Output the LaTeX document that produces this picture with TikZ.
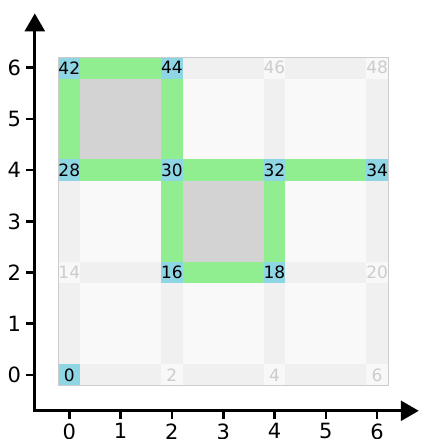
\documentclass[tikz,border=0pt]{standalone}
\usepackage{fontspec}
\setmainfont{DejaVu Sans}
\usetikzlibrary{arrows.meta}
\definecolor{vact}{HTML}{8ED6E4}
\definecolor{eact}{HTML}{90EE90}
\definecolor{fact}{HTML}{D3D3D3}
\definecolor{eoff}{HTML}{F0F0F0}
\definecolor{foff}{HTML}{F9F9F9}
\definecolor{voffc}{HTML}{F8F8F8}
\definecolor{txtoff}{HTML}{CCCCCC}
\definecolor{framec}{HTML}{CCCCCC}
\begin{document}
\begin{tikzpicture}[
  vtx/.style={rectangle, minimum size=21.6pt, inner sep=0pt, outer sep=0pt, font=\fontsize{17}{17}\selectfont},
  von/.style={vtx, fill=vact, text=black},
  voff/.style={vtx, fill=voffc, text=txtoff},
  axisline/.style={line width=2.8pt},
  tickline/.style={line width=2.6pt},
  ticklab/.style={font=\fontsize{21}{21}\selectfont, inner sep=0pt},
  bigtip/.tip={Triangle[length=18pt,width=20pt]}
]
\useasboundingbox (0,0) rectangle (429pt,439pt);
\begin{scope}[shift={(69.3pt,64pt)}, x=51.3pt, y=51.2pt]
  % vertex cells
  \node[von]  (v0)  at (0,0) {0};
  \node[voff] (v2)  at (2,0) {2};
  \node[voff] (v4)  at (4,0) {4};
  \node[voff] (v6)  at (6,0) {6};
  \node[voff] (v14) at (0,2) {14};
  \node[von]  (v16) at (2,2) {16};
  \node[von]  (v18) at (4,2) {18};
  \node[voff] (v20) at (6,2) {20};
  \node[von]  (v28) at (0,4) {28};
  \node[von]  (v30) at (2,4) {30};
  \node[von]  (v32) at (4,4) {32};
  \node[von]  (v34) at (6,4) {34};
  \node[von]  (v42) at (0,6) {42};
  \node[von]  (v44) at (2,6) {44};
  \node[voff] (v46) at (4,6) {46};
  \node[voff] (v48) at (6,6) {48};
  % horizontal edges
  \foreach \a/\b in {0/2,2/4,4/6,14/16,18/20,44/46,46/48}
    \fill[eoff] (v\a.south east) rectangle (v\b.north west);
  \foreach \a/\b in {16/18,28/30,30/32,32/34,42/44}
    \fill[eact] (v\a.south east) rectangle (v\b.north west);
  % vertical edges
  \foreach \a/\b in {0/14,14/28,2/16,4/18,32/46,6/20,20/34,34/48}
    \fill[eoff] (v\a.north west) rectangle (v\b.south east);
  \foreach \a/\b in {28/42,16/30,30/44,18/32}
    \fill[eact] (v\a.north west) rectangle (v\b.south east);
  % faces
  \foreach \a/\b in {0/16,2/18,4/20,14/30,18/34,30/46,32/48}
    \fill[foff] (v\a.north east) rectangle (v\b.south west);
  \foreach \a/\b in {16/32,28/44}
    \fill[fact] (v\a.north east) rectangle (v\b.south west);
  % frame
  \draw[framec, line width=0.8pt] (v0.south west) rectangle (v48.north east);
  % axes
  \coordinate (O) at (-0.6725,-0.6992);
  \coordinate (ytip) at (-0.6725,7.0625);
  \coordinate (xtip) at (6.8119,-0.6992);
  \draw[axisline, {bigtip}-{bigtip}] (ytip) -- (O) -- (xtip);
  \foreach \k in {0,...,6} {
    \draw[tickline] (-0.6725,\k) -- ++(-8.5pt,0);
    \path (-0.6725,\k) ++(-20.5pt,0) node[ticklab] (yl\k) {\k};
    \draw[tickline] (\k,-0.6992) -- ++(0,-8.5pt);
    \path (\k,-0.6992) ++(0,-12.6pt) node[ticklab, anchor=north] (xl\k) {\k};
  }
\end{scope}
\end{tikzpicture}
\end{document}
